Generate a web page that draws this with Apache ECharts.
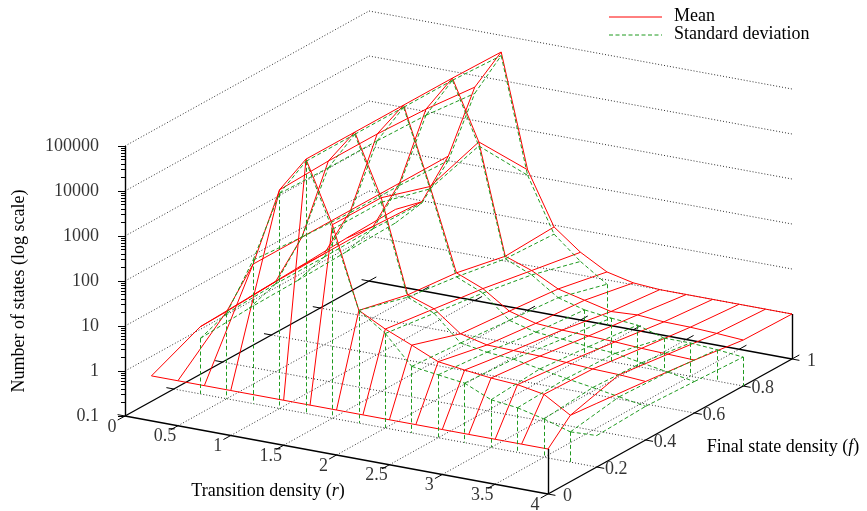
<!DOCTYPE html>
<html lang="en">
<head>
<meta charset="UTF-8">
<title>Number of states</title>
<style>
  html, body { margin: 0; padding: 0; background: #fff; }
  #main { width: 867px; height: 511px; }
</style>
</head>
<body>
<div id="main"></div>
<script src="https://cdn.jsdelivr.net/npm/echarts@6.0.0/dist/echarts.min.js"></script>
<script>
// sample grid of both surfaces: one row per f value
const fValues = [0, 0.2, 0.4, 0.6, 0.8, 1];
const rValues = [0.25, 0.5, 0.75, 1, 1.25, 1.5, 1.75, 2, 2.25, 2.5, 2.75, 3, 3.25, 3.5, 3.75, 4];
// the f = 0 row has no sample at r = 1.25
const rValuesF0 = [0.25, 0.5, 0.75, 1, 1.5, 1.75, 2, 2.25, 2.5, 2.75, 3, 3.25, 3.5, 3.75, 4];

// mean number of states
const meanF0 = [1, 1, 1, 1, 1, 1, 1, 1, 1, 1, 1, 1, 1, 1, 1];
const meanF02 = [3.1, 8.7, 126, 7240, 44700, 2000, 32, 15.8, 8.9, 4.9, 4.1, 3.5, 3.2, 2.5, 1.1, 2.6];
const meanF04 = [3.5, 10, 126, 7940, 44700, 2000, 17.8, 11.2, 4.0, 2.9, 2.8, 2.7, 2.5, 2.3, 2.2, 2.0];
const meanF06 = [4.0, 10.5, 126, 7940, 44700, 890, 13.8, 7.9, 3.2, 2.2, 2.0, 1.9, 1.8, 1.66, 1.58, 1.5];
const meanF08 = [4.6, 10.7, 126, 7100, 44700, 2190, 8.1, 5.0, 2.5, 1.8, 1.3, 1.4, 1.26, 1.23, 1.15, 1.05];
const meanF1 = [5.0, 9.5, 126, 5500, 42700, 132, 9.1, 3.2, 1.5, 1.1, 1, 1, 1, 1, 1, 1];

// standard deviation (0 = no spread)
const stdF0 = [0, 0, 0, 0, 0, 0, 0, 0, 0, 0, 0, 0, 0, 0, 0];
const stdF02 = [1.7, 7.9, 155, 6000, 40000, 1580, 32, 12.6, 3.0, 2.5, 2.1, 1.15, 0.98, 0.71, 0.47, 0.5];
const stdF04 = [2.0, 8.9, 126, 5600, 40000, 1580, 15.8, 8.9, 2.5, 2.0, 1.8, 1.4, 1.1, 0.89, 0.71, 0.56];
const stdF06 = [2.1, 8.9, 112, 5600, 40000, 790, 11.2, 6.3, 2.0, 1.4, 1.26, 1.1, 1.0, 0.79, 0.63, 0.5];
const stdF08 = [2.3, 9.5, 112, 5200, 40000, 1780, 7.1, 4.0, 1.6, 1.1, 0.93, 0.83, 0.55, 0.55, 0.5, 0.44];
const stdF1 = [2.5, 8.9, 100, 4000, 35500, 100, 6.3, 2.0, 0.8, 0, 0, 0, 0, 0, 0, 0];

const meanRows = [meanF0, meanF02, meanF04, meanF06, meanF08, meanF1];
const stdRows = [stdF0, stdF02, stdF04, stdF06, stdF08, stdF1];
const rowR = [rValuesF0, rValues, rValues, rValues, rValues, rValues];

const zTicks = [0.1, 1, 10, 100, 1000, 10000, 100000];
const zTickLabels = ['0.1', '1', '10', '100', '1000', '10000', '100000'];
const rTicks = [0, 0.5, 1, 1.5, 2, 2.5, 3, 3.5, 4];
const rTickLabels = ['0', '0.5', '1', '1.5', '2', '2.5', '3', '3.5', '4'];
const fTicks = [0, 0.2, 0.4, 0.6, 0.8, 1];
const fTickLabels = ['0', '0.2', '0.4', '0.6', '0.8', '1'];

// view of the box: origin (r=0,f=0,z=0.1) and screen step per unit
const view = { ox: 125, oy: 416, rx: 105.75, ry: 19.5, fx: 244, fy: -135, dz: 45 };
const rMax = 4, fMax = 1, zLow = -1, zHigh = 5;

function proj(r, f, lz) {
  return [view.ox + view.rx * r + view.fx * f,
          view.oy + view.ry * r + view.fy * f - view.dz * (lz - zLow)];
}
function lg(v) { return v > 0 ? Math.log10(v) : -Infinity; }

// segment between two samples, clipped at the floor of the log axis
function clipSeg(list, a, b) {
  let la = lg(a[2]), lb = lg(b[2]);
  if (la >= zLow && lb >= zLow) {
    list.push({ coords: [proj(a[0], a[1], la), proj(b[0], b[1], lb)] });
    return;
  }
  if (la < zLow && lb < zLow) return;
  let hi = la >= zLow ? a : b, lo = la >= zLow ? b : a;
  let lh = Math.max(la, lb), ll = Math.min(la, lb);
  let t = ll === -Infinity ? 0 : (lh - zLow) / (lh - ll);
  let r = hi[0] + t * (lo[0] - hi[0]), f = hi[1] + t * (lo[1] - hi[1]);
  list.push({ coords: [proj(hi[0], hi[1], lh), proj(r, f, zLow)] });
}

// rows along r, cross lines join the i-th sample of neighbouring rows
function wire(rows) {
  let out = [];
  for (let i = 0; i < rows.length; i++) {
    let rs = rowR[i];
    for (let j = 0; j < rs.length; j++) {
      let p = [rs[j], fValues[i], rows[i][j]];
      if (j + 1 < rs.length) clipSeg(out, p, [rs[j + 1], fValues[i], rows[i][j + 1]]);
      if (i + 1 < rows.length && j < rowR[i + 1].length) {
        clipSeg(out, p, [rowR[i + 1][j], fValues[i + 1], rows[i + 1][j]]);
      }
    }
  }
  return out;
}

function seg(list, a, b) { list.push({ coords: [a, b] }); }

// dotted grid on walls and base
let gridLines = [];
zTicks.forEach(z => {
  if (z <= 0.1) return;
  let l = Math.log10(z);
  seg(gridLines, proj(0, 0, l), proj(0, fMax, l));
  seg(gridLines, proj(0, fMax, l), proj(rMax, fMax, l));
});
rTicks.forEach(r => { if (r > 0 && r < rMax) seg(gridLines, proj(r, 0, zLow), proj(r, fMax, zLow)); });
fTicks.forEach(f => { if (f > 0 && f < fMax) seg(gridLines, proj(0, f, zLow), proj(rMax, f, zLow)); });

// border
let borderLines = [];
seg(borderLines, proj(0, 0, zLow), proj(rMax, 0, zLow));
seg(borderLines, proj(rMax, 0, zLow), proj(rMax, fMax, zLow));
seg(borderLines, proj(rMax, fMax, zLow), proj(0, fMax, zLow));
seg(borderLines, proj(0, fMax, zLow), proj(0, 0, zLow));
seg(borderLines, proj(0, 0, zLow), proj(0, 0, zHigh));
seg(borderLines, proj(rMax, 0, zLow), proj(rMax, 0, 0));
seg(borderLines, proj(rMax, fMax, zLow), proj(rMax, fMax, 0));

// tics
let tickLines = [];
rTicks.forEach(r => {
  seg(tickLines, proj(r, 0, zLow), proj(r, -0.03, zLow));
  seg(tickLines, proj(r, fMax, zLow), proj(r, fMax + 0.03, zLow));
});
fTicks.forEach(f => {
  seg(tickLines, proj(rMax, f, zLow), proj(rMax + 0.07, f, zLow));
  seg(tickLines, proj(0, f, zLow), proj(-0.07, f, zLow));
});
for (let d = zLow; d <= zHigh; d++) {
  let p = proj(0, 0, d);
  seg(tickLines, [p[0] - 7, p[1]], p);
  if (d < zHigh) {
    for (let k = 2; k <= 9; k++) {
      let q = proj(0, 0, d + Math.log10(k));
      seg(tickLines, [q[0] - 4, q[1]], q);
    }
  }
}

// tick label anchors
const zLabelData = zTicks.map((z, i) => {
  let p = proj(0, 0, Math.log10(z));
  return { name: zTickLabels[i], value: [p[0] - 26, p[1]] };
});
const rLabelData = rTicks.map((r, i) => {
  let p = proj(r, 0, zLow);
  return { name: rTickLabels[i], value: [p[0] - 13, p[1] + 11] };
});
const fLabelData = fTicks.map((f, i) => {
  let p = proj(rMax, f, zLow);
  return { name: fTickLabels[i], value: [p[0] + 19.5, p[1] + 2.5] };
});

const font = 'Liberation Serif, Times New Roman, serif';
const red = '#ff0000';
const green = '#1f9a1f';

function lineSeries(data, color, width, type) {
  return {
    type: 'lines', coordinateSystem: 'cartesian2d', silent: true, animation: false,
    lineStyle: { color: color, width: width, type: type, opacity: 1, curveness: 0 },
    data: data
  };
}
function labelSeries(data, align) {
  return {
    type: 'scatter', silent: true, animation: false, symbolSize: 1,
    itemStyle: { color: 'rgba(0,0,0,0)' },
    label: {
      show: true, position: 'inside', formatter: '{b}', align: align, verticalAlign: 'middle',
      color: '#000', fontFamily: font, fontSize: 18
    },
    data: data
  };
}

var myChart = echarts.init(document.getElementById('main'));
option = {
  backgroundColor: '#fff',
  animation: false,
  grid: { left: 0, right: 0, top: 0, bottom: 0 },
  xAxis: { type: 'value', min: 0, max: 867, show: false },
  yAxis: { type: 'value', min: 0, max: 511, inverse: true, show: false },
  series: [
    lineSeries(gridLines, '#333', 1, [1, 2]),
    lineSeries(borderLines, '#000', 1.4, 'solid'),
    lineSeries(tickLines, '#000', 1, 'solid'),
    lineSeries(wire(meanRows), red, 1, 'solid'),
    lineSeries(wire(stdRows), green, 1, [4, 2.5]),
    labelSeries(zLabelData, 'right'),
    labelSeries(rLabelData, 'center'),
    labelSeries(fLabelData, 'center')
  ],
  graphic: [
    {
      type: 'text', x: 19, y: 291, rotation: Math.PI / 2,
      style: { text: 'Number of states (log scale)', font: '18px ' + font, fill: '#000', align: 'center', verticalAlign: 'middle' }
    },
    {
      type: 'text', x: 268, y: 491,
      style: {
        text: '{a|Transition density (}{i|r}{a|)}', align: 'center', verticalAlign: 'middle',
        rich: { a: { fontFamily: font, fontSize: 18, fill: '#000' }, i: { fontFamily: font, fontSize: 18, fontStyle: 'italic', fill: '#000' } }
      }
    },
    {
      type: 'text', x: 783, y: 447,
      style: {
        text: '{a|Final state density (}{i|f}{a|)}', align: 'center', verticalAlign: 'middle',
        rich: { a: { fontFamily: font, fontSize: 18, fill: '#000' }, i: { fontFamily: font, fontSize: 18, fontStyle: 'italic', fill: '#000' } }
      }
    },
    { type: 'line', shape: { x1: 609, y1: 17, x2: 662, y2: 17 }, style: { stroke: red, lineWidth: 1 } },
    { type: 'text', x: 674, y: 16, style: { text: 'Mean', font: '18px ' + font, fill: '#000', verticalAlign: 'middle' } },
    { type: 'line', shape: { x1: 609, y1: 35, x2: 662, y2: 35 }, style: { stroke: green, lineWidth: 1, lineDash: [4, 2.5] } },
    { type: 'text', x: 674, y: 34, style: { text: 'Standard deviation', font: '18px ' + font, fill: '#000', verticalAlign: 'middle' } }
  ]
};
myChart.setOption(option);
</script>
</body>
</html>
